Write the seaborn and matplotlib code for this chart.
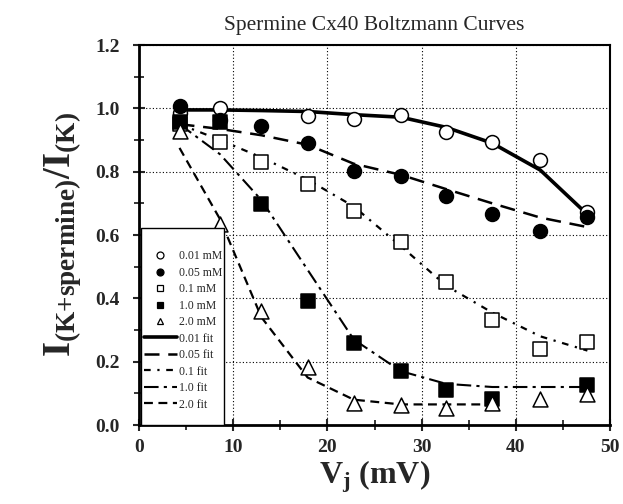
import numpy as np
import matplotlib
matplotlib.use("Agg")
import matplotlib.pyplot as plt
from matplotlib.lines import Line2D
from matplotlib.patches import Rectangle
import seaborn as sns

sns.set_style("ticks")
plt.rcParams["font.family"] = ["Liberation Serif", "DejaVu Serif"]
plt.rcParams["mathtext.fontset"] = "custom"
plt.rcParams["mathtext.rm"] = "Liberation Serif"
plt.rcParams["mathtext.bf"] = "Liberation Serif:bold"
plt.rcParams["mathtext.it"] = "Liberation Serif:italic"

# Junctional voltage (mV)
vj = [4.3, 8.6, 13.0, 17.9, 22.8, 27.8, 32.6, 37.5, 42.6, 47.6]

# Normalised current I(K+spermine)/I(K) for each spermine concentration
ratio_001 = [0.984, 1.000, np.nan, 0.975, 0.966, 0.978, 0.925, 0.894, 0.838, 0.672]
ratio_005 = [1.006, 0.962, 0.943, 0.889, 0.802, 0.786, 0.724, 0.667, 0.612, 0.656]
ratio_01 = [0.950, 0.893, 0.831, 0.760, 0.677, 0.578, 0.453, 0.331, 0.240, 0.263]
ratio_1 = [0.958, 0.958, 0.698, 0.391, 0.260, 0.170, 0.109, 0.083, np.nan, 0.125]
ratio_2 = [0.927, 0.635, 0.359, 0.182, 0.070, 0.062, 0.055, 0.068, 0.083, 0.099]

# Boltzmann fits evaluated at the same voltages
fit_001 = [0.995, 0.995, 0.993, 0.990, 0.980, 0.972, 0.940, 0.890, 0.805, 0.665]
fit_005 = [0.950, 0.935, 0.915, 0.885, 0.825, 0.790, 0.745, 0.700, 0.655, 0.625]
fit_01 = [0.950, 0.900, 0.845, 0.775, 0.690, 0.565, 0.440, 0.355, 0.280, 0.235]
fit_1 = [0.950, 0.855, 0.710, 0.490, 0.270, 0.170, 0.130, 0.120, 0.120, 0.120]
vj_fit2 = [4.3, 8.6, 13.0, 17.9, 22.8, 27.8, 32.6, 37.5]
fit_2 = [0.875, 0.650, 0.340, 0.150, 0.080, 0.065, 0.065, 0.065]

point_labels = ["0.01 mM", "0.05 mM", "0.1 mM", "1.0 mM", "2.0 mM"]
fit_labels = ["0.01 fit", "0.05 fit", "0.1 fit", "1.0 fit", "2.0 fit"]

fig = plt.figure(figsize=(6.23, 5.04), dpi=100)
ax = fig.add_axes([139 / 623, 1 - 425 / 504, (610 - 139) / 623, (425 - 45) / 504])

# fitted curves
fit_styles = [
    dict(x=vj, y=fit_001, linestyle="-", lw=2.6),
    dict(x=vj, y=fit_005, linestyle=(0, (6, 3.5)), lw=1.8),
    dict(x=vj, y=fit_01, linestyle=(0, (3, 3, 1, 3)), lw=1.6),
    dict(x=vj, y=fit_1, linestyle=(0, (7, 2.5, 1.5, 2.5)), lw=1.5),
    dict(x=vj_fit2, y=fit_2, linestyle=(0, (4, 2.5)), lw=1.6),
]
for st in fit_styles:
    sns.lineplot(x=st["x"], y=st["y"], color="black", linestyle=st["linestyle"],
                 lw=st["lw"], sort=False, estimator=None, ax=ax, zorder=3)

# measured points
point_styles = [
    (ratio_001, "o", "white", 100),
    (ratio_005, "o", "black", 100),
    (ratio_01, "s", "white", 90),
    (ratio_1, "s", "black", 90),
    (ratio_2, "^", "white", 115),
]
for vals, mk, fc, s in point_styles:
    sns.scatterplot(x=vj, y=vals, marker=mk, s=s, color=fc, edgecolor="black",
                    linewidth=1.1, ax=ax, zorder=5)

ax.set_xlim(0, 50)
ax.set_ylim(0, 1.2)
ax.set_xticks(np.arange(0, 51, 10))
ax.set_xticks(np.arange(5, 50, 10), minor=True)
ax.set_yticks(np.arange(0, 1.21, 0.2))
ax.set_yticks(np.arange(0.1, 1.2, 0.2), minor=True)
ax.set_yticklabels([f"{v:.1f}" for v in np.arange(0, 1.21, 0.2)])
ax.tick_params(which="major", direction="inout", length=8, width=1.5,
               labelsize=14, top=False, right=False)
ax.tick_params(which="minor", direction="inout", length=7, width=1.3,
               top=False, right=False)
ax.tick_params(axis="x", which="major", pad=6)
ax.tick_params(axis="y", which="major", pad=10)
for lab in ax.get_xticklabels() + ax.get_yticklabels():
    lab.set_fontweight("bold")
for name, sp in ax.spines.items():
    sp.set_linewidth(2.0 if name in ("left", "bottom") else 1.5)
    sp.set_color("black")

ax.grid(True, which="major", color="black", linestyle=(0, (1, 2)), linewidth=0.8)
ax.set_axisbelow(True)

ax.set_title("Spermine Cx40 Boltzmann Curves", fontsize=15.5, pad=11)
ax.set_xlabel(r"$\mathbf{V}_{\mathbf{j}}$ (mV)", fontsize=23, fontweight="bold", labelpad=2)
ax.set_ylabel(r"$\mathbf{I}_{\mathbf{(K{+}spermine)}}\mathbf{/I}_{\mathbf{(K)}}$",
              fontsize=28, labelpad=8)

# legend box
ax.add_patch(Rectangle((0.004, 0.0), 0.176, 0.518, transform=ax.transAxes,
                       facecolor="white", edgecolor="black", lw=1.0, zorder=6))

handles = []
for (vals, mk, fc, s) in point_styles:
    handles.append(Line2D([], [], linestyle="none", marker=mk, markersize=5,
                          markerfacecolor=fc, markeredgecolor="black", markeredgewidth=0.9))
for st in fit_styles:
    handles.append(Line2D([], [], color="black", linestyle=st["linestyle"], lw=st["lw"]))
leg = ax.legend(handles=handles, labels=point_labels + fit_labels, loc="upper left",
                bbox_to_anchor=(0.01, 0.46), frameon=False, fontsize=8.5,
                handlelength=2.8, handletextpad=0.2, labelspacing=0.38,
                borderpad=0, borderaxespad=0)
leg.set_zorder(10)

fig.savefig("out.png", dpi=100)
